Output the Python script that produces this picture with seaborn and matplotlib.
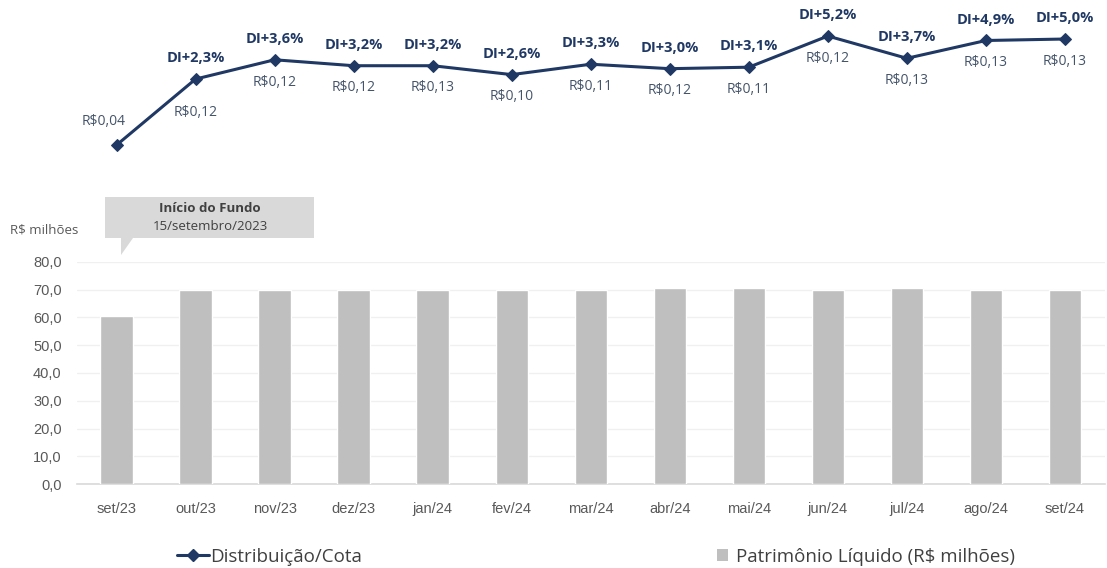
import numpy as np
import pandas as pd
import matplotlib
matplotlib.use("Agg")
import matplotlib.pyplot as plt
import seaborn as sns
from matplotlib.patches import Polygon, Patch
from matplotlib.lines import Line2D

# ---------------- data ----------------
meses = ["set/23", "out/23", "nov/23", "dez/23", "jan/24", "fev/24", "mar/24",
         "abr/24", "mai/24", "jun/24", "jul/24", "ago/24", "set/24"]
patrimonio = [60.5, 70.0, 70.0, 70.0, 70.0, 70.0, 70.0, 70.5, 70.5, 70.0, 70.5, 70.0, 70.0]
spread_di = [-2.15, 2.3, 3.6, 3.2, 3.2, 2.6, 3.3, 3.0, 3.1, 5.2, 3.7, 4.9, 5.0]
spread_labels = ["", "DI+2,3%", "DI+3,6%", "DI+3,2%", "DI+3,2%", "DI+2,6%", "DI+3,3%",
                 "DI+3,0%", "DI+3,1%", "DI+5,2%", "DI+3,7%", "DI+4,9%", "DI+5,0%"]
distribuicao_labels = ["R$0,04", "R$0,12", "R$0,12", "R$0,12", "R$0,13", "R$0,10", "R$0,11",
                       "R$0,12", "R$0,11", "R$0,12", "R$0,13", "R$0,13", "R$0,13"]
y_ticks = [0, 10, 20, 30, 40, 50, 60, 70, 80]

NAVY = "#1F3864"
SLATE = "#44546A"
BAR = "#BFBFBF"
TXT = "#595959"

sns.set_theme(style="white")
plt.rcParams["font.family"] = ["Open Sans", "DejaVu Sans"]

W, H = 1107, 568
fig = plt.figure(figsize=(W / 100, H / 100), dpi=100)


def box(l, t, r, b):
    return [l / W, 1 - b / H, (r - l) / W, (b - t) / H]


def fx(px):
    return px / W


def fy(py):
    return 1 - py / H


# ---------------- bars ----------------
ax_bar = fig.add_axes(box(77, 262, 1104.5, 484))
df = pd.DataFrame({"mes": meses, "pl": patrimonio})
sns.barplot(data=df, x="mes", y="pl", color=BAR, width=0.41, ax=ax_bar,
            saturation=1, zorder=3)
ax_bar.set_xlim(-0.5, len(meses) - 0.5)
ax_bar.set_ylim(0, 80)
ax_bar.set_yticks(y_ticks)
ax_bar.set_yticklabels([f"{v:.1f}".replace(".", ",") for v in y_ticks])
ax_bar.set_xlabel("")
ax_bar.set_ylabel("")
ax_bar.grid(axis="y", color="#F0F0F0", linewidth=1, zorder=0)
ax_bar.set_axisbelow(True)
for s in ["top", "right", "left"]:
    ax_bar.spines[s].set_visible(False)
ax_bar.spines["bottom"].set_color("#D9D9D9")
ax_bar.spines["bottom"].set_linewidth(1.2)
ax_bar.tick_params(axis="both", length=0, colors=TXT, labelsize=10.5)
for lab in ax_bar.get_xticklabels() + ax_bar.get_yticklabels():
    lab.set_fontfamily(["Liberation Sans", "DejaVu Sans"])
ax_bar.tick_params(axis="x", pad=13)
ax_bar.tick_params(axis="y", pad=11)

# ---------------- line ----------------
ax_line = fig.add_axes(box(77, 0, 1104.5, 170))
x = np.arange(len(meses))
sns.lineplot(x=x, y=spread_di, ax=ax_line, color=NAVY, linewidth=2.2,
             marker="D", markersize=6, markeredgecolor=NAVY, markerfacecolor=NAVY)
ax_line.set_xlim(-0.5, len(meses) - 0.5)
ax_line.set_ylim(-3.83, 7.63)
ax_line.axis("off")

for i, (v, dl, rl) in enumerate(zip(spread_di, spread_labels, distribuicao_labels)):
    if dl:
        ax_line.annotate(dl, (i, v), xytext=(0, 15), textcoords="offset points",
                         ha="center", va="center", fontsize=10.5, fontweight="bold",
                         color=NAVY)
    if i == 0:
        off = (-9, 17)
    elif i == 1:
        off = (0, -24)
    else:
        off = (0, -16)
    ax_line.annotate(rl, (i, v), xytext=off, textcoords="offset points",
                     ha="center", va="center", fontsize=10, color=SLATE)

# ---------------- callout ----------------
pts = [(105, 197), (314, 197), (314, 238), (133, 238), (121, 255), (121, 238), (105, 238)]
poly = Polygon([(fx(a), fy(b)) for a, b in pts], closed=True, transform=fig.transFigure,
               facecolor="#D9D9D9", edgecolor="none")
fig.patches.append(poly)
fig.text(fx(210), fy(208), "Início do Fundo", ha="center", va="center",
         fontsize=9.5, fontweight="bold", color="#404040")
fig.text(fx(210), fy(226), "15/setembro/2023", ha="center", va="center",
         fontsize=9.5, color="#404040")
fig.text(fx(10), fy(230), "R$ milhões", ha="left", va="center", fontsize=9.5, color=TXT)

# ---------------- legend ----------------
h_line = Line2D([], [], color=NAVY, linewidth=2.2, marker="D", markersize=6)
h_bar = Patch(facecolor=BAR, edgecolor="none")
leg1 = fig.legend([h_line], ["Distribuição/Cota"], loc="center left",
                  bbox_to_anchor=(fx(160), fy(557)), frameon=False, fontsize=13.5,
                  handlelength=1.7, handletextpad=0.1, labelcolor="#404040")
leg2 = fig.legend([h_bar], ["Patrimônio Líquido (R$ milhões)"], loc="center left",
                  bbox_to_anchor=(fx(700), fy(557)), frameon=False, fontsize=13.5,
                  handlelength=0.6, handleheight=0.6, handletextpad=0.4,
                  labelcolor="#404040")

fig.savefig("out.png", dpi=100, facecolor="white")
